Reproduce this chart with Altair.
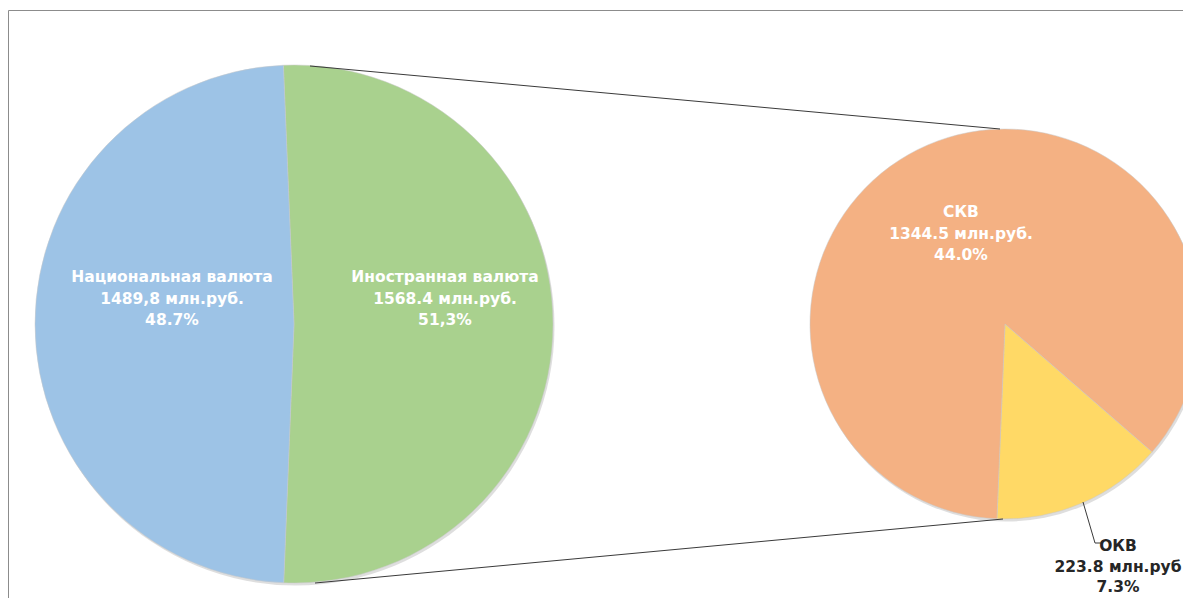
import math
import altair as alt
import pandas as pd

# ---------------- data ----------------
left_categories = ["Иностранная валюта", "Национальная валюта"]
left_values = [1568.4, 1489.8]
left_value_labels = ["1568.4", "1489,8"]
left_unit_labels = ["млн.руб.", "млн.руб."]
left_pct_labels = ["51,3%", "48.7%"]

right_categories = ["ОКВ", "СКВ"]
right_values = [223.8, 1344.5]
right_value_labels = ["223.8", "1344.5"]
right_unit_labels = ["млн.руб", "млн.руб."]
right_pct_labels = ["7.3%", "44.0%"]

# ---------------- layout / style ----------------
W, H = 1175, 590
LX, LY, LR = 286, 316, 259          # left pie centre / radius
RX, RY, RR = 997, 316, 195          # right pie centre / radius
L_START = -0.041                    # start angle (rad) of left pie
R_START = math.radians(131)         # start angle (rad) of right pie

colors = {
    "Национальная валюта": "#9DC3E6",
    "Иностранная валюта": "#A9D18E",
    "СКВ": "#F4B183",
    "ОКВ": "#FFD966",
}
# position of the first line of each label
label_pos = {
    "Национальная валюта": (164, 269),
    "Иностранная валюта": (437, 269),
    "СКВ": (953, 204),
    "ОКВ": (1110, 538),
}
label_color = {
    "Национальная валюта": "#ffffff",
    "Иностранная валюта": "#ffffff",
    "СКВ": "#ffffff",
    "ОКВ": "#262626",
}
label_lh = {
    "Национальная валюта": 21.5,
    "Иностранная валюта": 21.5,
    "СКВ": 21.5,
    "ОКВ": 20.5,
}
FONT = "DejaVu Sans"
FSIZE = 15.5


def make_df(cats, vals, vlabels, units, pcts):
    rows = []
    for i, (c, v, vl, u, p) in enumerate(zip(cats, vals, vlabels, units, pcts)):
        rows.append({
            "idx": i, "category": c, "value": v,
            "label": f"{c}\n{vl} {u}\n{p}",
        })
    return pd.DataFrame(rows)


left_df = make_df(left_categories, left_values, left_value_labels, left_unit_labels, left_pct_labels)
right_df = make_df(right_categories, right_values, right_value_labels, right_unit_labels, right_pct_labels)

color_scale = alt.Scale(domain=list(colors.keys()), range=list(colors.values()))


def shadow(cx, cy, r):
    return alt.Chart(pd.DataFrame({"a": [0]})).mark_circle(
        color="#a0a0a0", opacity=0.35
    ).encode(x=alt.value(cx + 1.5), y=alt.value(cy + 2.5), size=alt.value((2 * r) ** 2))


def pie(df, cx, cy, r, start):
    return alt.Chart(df).mark_arc(
        radius=r, stroke="#c8c8c8", strokeWidth=0.5
    ).encode(
        theta=alt.Theta("value:Q", stack=True,
                        scale=alt.Scale(range=[start, start + 2 * math.pi])),
        color=alt.Color("category:N", scale=color_scale, legend=None),
        order=alt.Order("idx:Q"),
        x=alt.value(cx),
        y=alt.value(cy),
    )


def labels(df, cat):
    sub = df[df["category"] == cat]
    px, py = label_pos[cat]
    return alt.Chart(sub).mark_text(
        font=FONT, fontSize=FSIZE, fontWeight="bold", lineBreak="\n",
        lineHeight=label_lh[cat], align="center", baseline="middle",
        color=label_color[cat],
    ).encode(text="label:N", x=alt.value(px), y=alt.value(py))


def rule(x1, y1, x2, y2, color="#3a3a3a", w=1):
    return alt.Chart(pd.DataFrame({"a": [0]})).mark_rule(
        color=color, strokeWidth=w
    ).encode(x=alt.value(x1), y=alt.value(y1), x2=alt.value(x2), y2=alt.value(y2))


layers = [
    rule(0.5, 2.5, W, 2.5, color="#8c8c8c"),
    rule(0.5, 2.5, 0.5, H, color="#8c8c8c"),
    shadow(LX, LY, LR),
    shadow(RX, RY, RR),
    pie(left_df, LX, LY, LR, L_START),
    pie(right_df, RX, RY, RR, R_START),
    rule(302, 58, 992, 121),
    rule(307, 575, 995, 511),
    rule(1075, 494, 1087, 535),
    rule(1087, 535, 1094, 535),
]
for c in left_categories:
    layers.append(labels(left_df, c))
for c in right_categories:
    layers.append(labels(right_df, c))

chart = alt.layer(*layers).resolve_scale(theta="independent").properties(
    width=W, height=H, padding=0,
    autosize=alt.AutoSizeParams(type="none"),
).configure(background="#ffffff",
            view=alt.ViewConfig(stroke="transparent", strokeWidth=0))

chart.save("out.html", embed_options={"renderer": "svg", "actions": False})
